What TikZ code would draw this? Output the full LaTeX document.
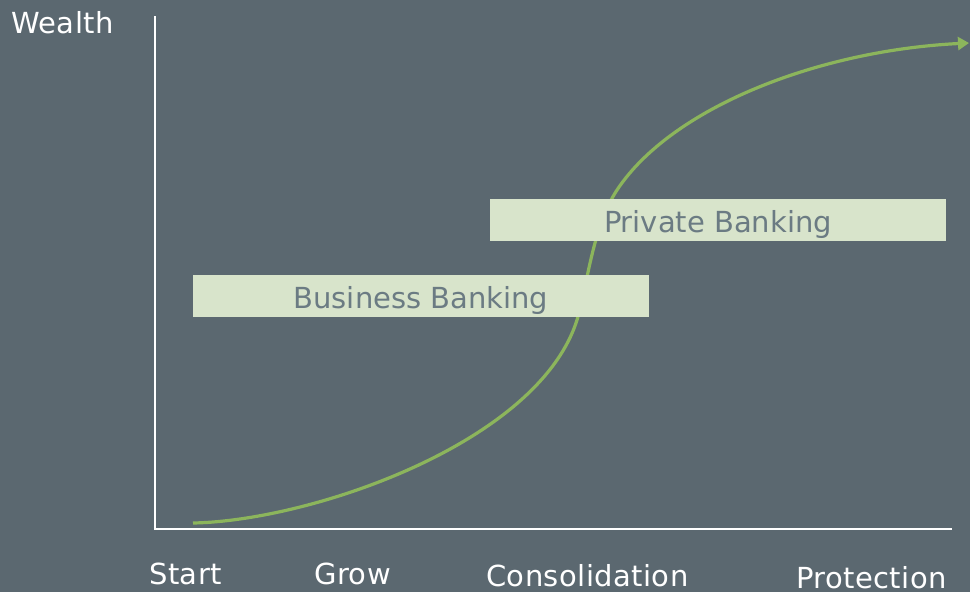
\documentclass[tikz,border=0pt]{standalone}
\usepackage{fontspec}
\setmainfont{DejaVu Sans}
\usetikzlibrary{arrows.meta}
\definecolor{bg}{HTML}{5B6870}
\definecolor{curvegreen}{HTML}{8CB55C}
\definecolor{boxfill}{HTML}{D8E4CB}
\definecolor{boxtext}{HTML}{6B7B83}
\tikzset{
  axis/.style={draw=white, line width=2.4pt},
  growth/.style={draw=curvegreen, line width=3.2pt, -{Triangle[length=11pt,width=13pt]}},
  band/.style={fill=boxfill, draw=none, inner sep=0pt, text height=24.5pt, text depth=0pt,
    minimum width=456pt, minimum height=42pt, font=\fontsize{29}{34}\selectfont, text=boxtext},
  lbl/.style={text=white, inner sep=0pt, anchor=base west,
    font=\fontsize{29}{34}\selectfont\addfontfeature{LetterSpace=1.5}},
}
\begin{document}
\begin{tikzpicture}[x=1pt,y=-1pt]
\fill[bg] (0,0) rectangle (970,592);
\useasboundingbox (0,0) rectangle (970,592);
% axes
\coordinate (ytop) at (155,16);
\coordinate (origin) at (155,529);
\coordinate (xend) at (952,529);
\draw[axis] (ytop) -- (origin) -- (xend);
% growth curve
\coordinate (c0) at (193,523);
\coordinate (ca) at (577,320);
\coordinate (cb) at (617,190);
\coordinate (c1) at (969,43);
\draw[growth] (c0) .. controls (310,521) and (538,443.5) .. (ca)
  .. controls (587,288) and (592,228) .. (cb)
  .. controls (672,107) and (819,50.5) .. (c1);
% boxes
\node[band] (bb) at (421,296) {Business Banking};
\node[band] (pb) at (718,220) {Private Banking};
% labels
\node[lbl] (wealth) at (11,33) {Wealth};
\node[lbl] (start) at (149,584) {Start};
\node[lbl] (grow) at (314,584) {Grow};
\node[lbl] (cons) at (486,586) {Consolidation};
\node[lbl] (prot) at (796,588) {Protection};
\end{tikzpicture}
\end{document}
